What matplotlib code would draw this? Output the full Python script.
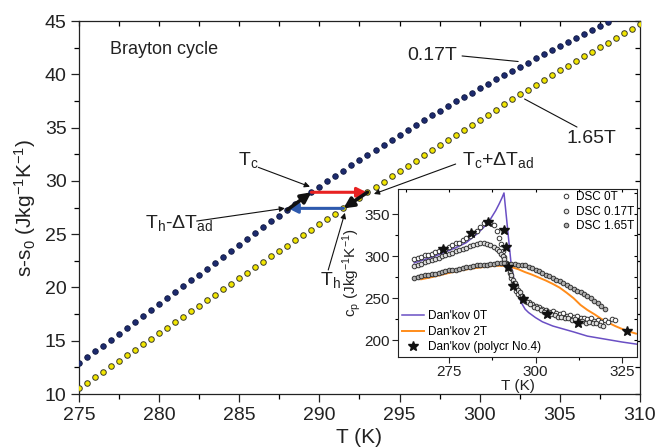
import numpy as np
import matplotlib
matplotlib.use('Agg')
import matplotlib.pyplot as plt
from matplotlib.lines import Line2D

plt.rcParams['font.family'] = ['Liberation Sans', 'DejaVu Sans']
plt.rcParams['mathtext.fontset'] = 'custom'
plt.rcParams['mathtext.rm'] = 'Liberation Sans'
plt.rcParams['mathtext.it'] = 'Liberation Sans:italic'
plt.rcParams['mathtext.default'] = 'regular'
TXT = '#222222'

# ── entropy curves s-s0 (every 0.5 K) ──
T_s = np.arange(275.0, 310.01, 0.5)
s_017 = [12.88, 13.44, 13.99, 14.55, 15.11, 15.67, 16.22, 16.78, 17.34, 17.89,
         18.45, 19.00, 19.55, 20.11, 20.66, 21.21, 21.76, 22.31, 22.87, 23.42,
         23.97, 24.53, 25.08, 25.63, 26.19, 26.74, 27.29, 27.84, 28.38, 28.93,
         29.45, 29.96, 30.47, 30.97, 31.47, 31.96, 32.45, 32.93, 33.41, 33.88,
         34.35, 34.81, 35.27, 35.71, 36.15, 36.59, 37.02, 37.45, 37.87, 38.29,
         38.70, 39.11, 39.52, 39.92, 40.32, 40.71, 41.10, 41.49, 41.87, 42.25,
         42.63, 43.01, 43.39, 43.76, 44.13, 44.50, 44.88, 45.24, 45.60, 45.96, 46.32]
s_165 = [10.56, 11.08, 11.59, 12.11, 12.62, 13.14, 13.65, 14.17, 14.68, 15.20,
         15.71, 16.23, 16.74, 17.26, 17.77, 18.28, 18.79, 19.31, 19.82, 20.33,
         20.85, 21.36, 21.88, 22.39, 22.91, 23.42, 23.92, 24.42, 24.92, 25.42,
         25.92, 26.42, 26.92, 27.42, 27.92, 28.43, 28.93, 29.43, 29.92, 30.42,
         30.91, 31.41, 31.90, 32.40, 32.88, 33.36, 33.84, 34.32, 34.79, 35.27,
         35.74, 36.22, 36.69, 37.17, 37.64, 38.12, 38.57, 39.02, 39.47, 39.91,
         40.36, 40.80, 41.24, 41.67, 42.11, 42.54, 42.97, 43.40, 43.83, 44.28, 44.72]

# Brayton cycle temperatures (K)
T_c, T_c_ad = 289.5, 293.0
T_h, T_h_ad = 291.5, 288.0

# ── inset: heat capacity ──
T_dsc0 = [265, 266, 267, 268, 269, 270, 271, 272, 273, 274, 275, 276, 277, 278, 279,
          280, 281, 282, 283, 284, 285, 286, 287, 288, 289,
          289.5, 290, 290.5, 291, 291.5, 292, 292.5, 293, 293.5, 294, 294.5, 295, 295.5, 296,
          297, 298, 299, 300, 301, 302, 303, 304, 305, 306, 307, 308, 309, 310, 311, 312,
          313, 314, 315, 316, 317, 318, 319, 320, 321, 322, 323]
cp_dsc0 = [296, 298, 299, 301, 301, 303, 305, 306, 308, 309, 311, 313, 315, 316, 319,
           321, 324, 327, 330, 334, 339, 341, 340, 337, 330,
           322, 314, 306, 299, 292, 286, 280, 274, 268, 263, 259, 255, 252, 249,
           247, 245, 243, 241, 239, 237, 236, 234, 235, 232, 231, 232, 229, 230, 228, 229,
           226, 227, 225, 226, 223, 224, 222, 224, 222, 225, 224]
T_dsc017 = [265, 266, 267, 268, 269, 270, 271, 272, 273, 274, 275, 276, 277, 278, 279,
            280, 281, 282, 283, 284, 285, 286, 287, 288, 289,
            289.5, 290, 290.5, 291, 291.5, 292, 292.5, 293, 293.5, 294, 294.5, 295, 295.5, 296, 296.5,
            297.5, 298.5, 299.5, 300.5, 301.5, 302.5, 303.5, 304.5, 305.5, 306.5, 307.5, 308.5,
            309.5, 310.5, 311.5, 312.5, 313.5, 314.5, 315.5, 316.5, 317.5, 318.5, 319.5]
cp_dsc017 = [288, 290, 291, 293, 294, 295, 297, 298, 300, 301, 302, 304, 306, 307, 309,
             310, 312, 313, 314, 315, 315, 314, 313, 311, 308,
             306, 303, 300, 297, 292, 287, 282, 277, 272, 268, 264, 260, 257, 253, 250,
             246, 243, 240, 238, 236, 234, 232, 231, 230, 228, 228, 226,
             226, 224, 225, 223, 223, 221, 222, 220, 220, 218, 217]
T_dsc165 = list(range(265, 321))
cp_dsc165 = [274, 275, 276, 277, 278, 279, 279, 280, 281, 282, 283, 284, 284, 285, 286,
             287, 287, 288, 289, 289, 290, 290, 291, 291, 292, 292, 292, 291, 291, 291,
             290, 289, 289, 287, 286, 284, 282, 280, 278, 276, 274, 272, 270, 268, 266,
             263, 261, 259, 257, 255, 253, 250, 247, 244, 241, 237]

T_dk0 = [265, 268, 271, 274, 277, 280, 283, 285, 287, 288.5, 289.5, 290.3, 290.9, 292.0,
         293.0, 294, 295, 296, 297, 298, 300, 302, 305, 308, 311, 315, 320, 325, 330]
cp_dk0 = [292, 296, 300, 305, 310, 316, 326, 334, 344, 354, 362, 369, 375, 330,
          289, 268, 254, 244, 237, 233, 227, 222, 217, 213.5, 210, 205, 201.5, 198, 195]
T_dk2 = [267, 270, 273, 276, 279, 282, 285, 288, 291, 293, 295, 297, 299, 301, 303,
         305, 307, 309, 311, 313, 315, 317, 319, 321, 323, 325, 327, 329]
cp_dk2 = [272.5, 275, 278, 281, 283.5, 285.5, 287, 288.5, 288.5, 287, 284.5, 281, 278,
          274.5, 271, 267, 262.5, 256.5, 250, 242, 236, 231, 225.5, 221, 217, 213.5,
          210.5, 208]
T_poly = [273.3, 281.3, 286.3, 290.9, 291.5, 292.0, 293.4, 296.5, 303.2, 312.4, 326.4]
cp_poly = [309, 327, 340, 331, 311, 287, 265, 249, 231, 221, 210.5]

fig = plt.figure(figsize=(6.67, 4.48), dpi=100)
ax = fig.add_axes([0.1184, 0.1205, 0.8411, 0.8326])

ax.plot(T_s, s_017, 'o', ms=4.0, mfc='#1c2a6e', mec='#10183f', mew=0.6, ls='none', zorder=3)
ax.plot(T_s, s_165, 'o', ms=4.0, mfc='#f2e600', mec='#3a3a2a', mew=0.7, ls='none', zorder=3)

ax.set_xlim(275, 310)
ax.set_ylim(10, 45)
ax.set_xticks(np.arange(275, 311, 5))
ax.set_yticks(np.arange(10, 46, 5))
ax.set_xticks(np.arange(277.5, 310, 5), minor=True)
ax.set_yticks(np.arange(12.5, 45, 5), minor=True)
ax.tick_params(which='major', direction='out', length=6, width=0.9, labelsize=14, colors=TXT, pad=3)
ax.tick_params(which='minor', direction='out', length=3.5, width=0.9)
for sp in ax.spines.values():
    sp.set_linewidth(0.9)
    sp.set_color(TXT)
# inward ticks on top / right
tx = ax.secondary_xaxis('top')
tx.set_xticks(np.arange(275, 311, 2.5))
ty = ax.secondary_yaxis('right')
ty.set_yticks(np.arange(10, 46, 2.5))
for sec in (tx, ty):
    sec.tick_params(which='both', direction='in', labelleft=False, labelright=False,
                    labeltop=False, labelbottom=False, length=3.5, width=0.9)
    sec.spines[:].set_visible(False)
ax.set_xlabel('T (K)', fontsize=15, color=TXT, labelpad=3)
ax.set_ylabel('s-s$_0$ (Jkg$^{-1}$K$^{-1}$)', fontsize=15, color=TXT, labelpad=5)

ax.text(276.93, 42.28, 'Brayton cycle', fontsize=13, color=TXT, va='center')

# cycle arrows
s_c = np.interp(T_c, T_s, s_017)
s_cad = np.interp(T_c_ad, T_s, s_165)
s_h = np.interp(T_h, T_s, s_165)
s_had = np.interp(T_h_ad, T_s, s_017)
ax.annotate('', xy=(T_c_ad - 0.05, s_c), xytext=(T_c, s_c),
            arrowprops=dict(arrowstyle='-|>', color='#e82222', lw=2.2, mutation_scale=14,
                            shrinkA=0, shrinkB=0), zorder=4)
ax.annotate('', xy=(T_h_ad + 0.05, s_h), xytext=(T_h, s_h),
            arrowprops=dict(arrowstyle='-|>', color='#2e5aae', lw=2.2, mutation_scale=14,
                            shrinkA=0, shrinkB=0), zorder=4)
ax.annotate('', xy=(T_c, s_c), xytext=(T_h_ad, s_had),
            arrowprops=dict(arrowstyle='-|>', color='#111111', lw=2.6, mutation_scale=15,
                            shrinkA=0, shrinkB=0), zorder=4)
ax.annotate('', xy=(T_h, s_h), xytext=(T_c_ad, s_cad),
            arrowprops=dict(arrowstyle='-|>', color='#111111', lw=2.6, mutation_scale=15,
                            shrinkA=0, shrinkB=0), zorder=4)

thin = dict(arrowstyle='-|>', color='#111111', lw=0.8, mutation_scale=8, shrinkA=0, shrinkB=0)
line = dict(arrowstyle='-', color='#111111', lw=0.8, shrinkA=0, shrinkB=0)
ax.annotate('', xy=(302.4, 41.2), xytext=(298.9, 41.72), arrowprops=line)
ax.text(295.46, 41.81, '0.17T', fontsize=14, color=TXT, va='center')
ax.annotate('', xy=(302.8, 37.68), xytext=(306.07, 35.05), arrowprops=line)
ax.text(305.44, 33.93, '1.65T', fontsize=14, color=TXT, va='center')
ax.annotate('', xy=(293.4, 28.77), xytext=(298.5, 31.58), arrowprops=thin)
ax.text(298.87, 31.96, 'T$_c$+ΔT$_{ad}$', fontsize=14, color=TXT, va='center')
ax.annotate('', xy=(289.41, 29.45), xytext=(286.19, 31.27), arrowprops=thin)
ax.text(284.92, 31.96, 'T$_c$', fontsize=14, color=TXT, va='center')
ax.annotate('', xy=(287.85, 27.43), xytext=(282.34, 26.23), arrowprops=thin)
ax.text(279.12, 26.02, 'T$_h$-ΔT$_{ad}$', fontsize=14, color=TXT, va='center')
ax.annotate('', xy=(291.59, 27.0), xytext=(290.55, 21.64), arrowprops=thin)
ax.text(290.03, 20.70, 'T$_h$', fontsize=14, color=TXT, va='center')

# ── inset ──
ins = fig.add_axes([0.5967, 0.2031, 0.3583, 0.375])
ins.plot(T_dk0, cp_dk0, color='#6a4fc4', lw=1.1, zorder=2)
ins.plot(T_dk2, cp_dk2, color='#ff8c1a', lw=1.4, zorder=2)
ins.plot(T_dsc0, cp_dsc0, 'o', ms=3.3, mfc='white', mec='#333333', mew=0.7, ls='none', zorder=3)
ins.plot(T_dsc017, cp_dsc017, 'o', ms=3.3, mfc='#e0e0e0', mec='#333333', mew=0.7, ls='none', zorder=3)
ins.plot(T_dsc165, cp_dsc165, 'o', ms=3.3, mfc='#b0b0b0', mec='#333333', mew=0.7, ls='none', zorder=3)
ins.plot(T_poly, cp_poly, '*', ms=7, color='#111111', ls='none', zorder=4)

ins.set_xlim(260.3, 329.3)
ins.set_ylim(180.2, 379.7)
ins.set_xticks([275, 300, 325])
ins.set_yticks([200, 250, 300, 350])
ins.set_xticks([287.5, 312.5], minor=True)
ins.set_yticks([225, 275, 325], minor=True)
ins.tick_params(which='major', direction='out', length=4, width=0.8, labelsize=11, colors=TXT, pad=2)
ins.tick_params(which='minor', direction='out', length=2.5, width=0.8)
for sp in ins.spines.values():
    sp.set_linewidth(0.8)
    sp.set_color(TXT)
sx = ins.secondary_xaxis('top')
sx.set_xticks([262.5, 275, 287.5, 300, 312.5, 325])
sy = ins.secondary_yaxis('right')
sy.set_yticks([200, 225, 250, 275, 300, 325, 350, 375])
for sec in (sx, sy):
    sec.tick_params(which='both', direction='in', labelleft=False, labelright=False,
                    labeltop=False, labelbottom=False, length=2.5, width=0.8)
    sec.spines[:].set_visible(False)
ins.set_xlabel('T (K)', fontsize=11, color=TXT, labelpad=0)
ins.set_ylabel('c$_p$ (Jkg$^{-1}$K$^{-1}$)', fontsize=11, color=TXT, labelpad=1)

h1 = [Line2D([], [], marker='o', ls='none', ms=3.3, mfc=c, mec='#333333', mew=0.7)
      for c in ('white', '#e0e0e0', '#b0b0b0')]
leg1 = ins.legend(h1, ['DSC 0T', 'DSC 0.17T', 'DSC 1.65T'], loc='upper right',
                  bbox_to_anchor=(1.0, 1.0), frameon=False, fontsize=8.5, handlelength=1.0,
                  handletextpad=0.4, labelspacing=0.2, borderaxespad=0.0, borderpad=0.2)
ins.add_artist(leg1)
h2 = [Line2D([], [], color='#6a4fc4', lw=1.1), Line2D([], [], color='#ff8c1a', lw=1.4),
      Line2D([], [], marker='*', ls='none', ms=7, color='#111111')]
ins.legend(h2, ["Dan'kov 0T", "Dan'kov 2T", "Dan'kov (polycr No.4)"], loc='lower left',
           bbox_to_anchor=(0.0, 0.0), frameon=False, fontsize=8.5, handlelength=1.9,
           handletextpad=0.3, labelspacing=0.3, borderaxespad=0.1, borderpad=0.2)

fig.savefig('out.png', dpi=100, facecolor='white')
